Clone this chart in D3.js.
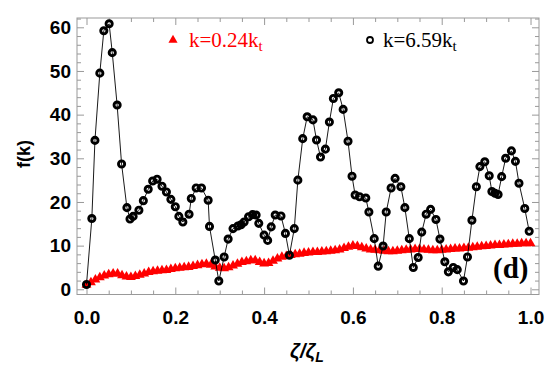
<!DOCTYPE html>
<html><head><meta charset="utf-8">
<script src="https://cdn.jsdelivr.net/npm/d3@7"></script>
<style>body{margin:0;background:#fff}svg{display:block}</style>
</head><body>
<svg id="c" width="553" height="366"></svg>
<script>
// ---- data ----
const blackZeta = [0.000,0.012,0.019,0.030,0.039,0.051,0.058,0.069,0.079,0.091,0.098,0.105,0.118,0.128,0.139,0.149,0.159,0.170,0.180,0.190,0.200,0.208,0.217,0.231,0.236,0.247,0.259,0.274,0.277,0.290,0.298,0.310,0.319,0.330,0.341,0.348,0.355,0.365,0.374,0.382,0.388,0.400,0.408,0.416,0.425,0.438,0.448,0.457,0.468,0.476,0.487,0.497,0.510,0.518,0.527,0.538,0.547,0.556,0.568,0.578,0.589,0.598,0.605,0.615,0.629,0.636,0.648,0.657,0.668,0.675,0.686,0.695,0.708,0.717,0.727,0.736,0.747,0.755,0.765,0.775,0.787,0.796,0.807,0.815,0.826,0.835,0.849,0.858,0.868,0.878,0.886,0.897,0.907,0.913,0.920,0.927,0.935,0.944,0.957,0.966,0.974,0.987,0.997];
const blackF = [1.1,16.2,34.1,49.5,59.2,60.8,54.2,42.2,28.7,18.7,16.1,16.7,18.1,20.3,22.9,24.8,25.2,23.6,22.3,20.6,18.9,16.7,15.4,17.2,20.8,23.2,23.2,20.4,14.4,6.7,1.9,7.4,11.5,13.9,14.5,14.8,15.4,16.6,17.1,17.0,15.1,12.4,11.2,14.3,17.0,16.8,12.8,7.8,13.9,25.0,34.5,39.5,38.8,34.2,30.3,32.1,38.3,43.7,45.0,41.2,33.9,25.9,21.6,21.2,20.9,17.7,11.6,5.3,9.9,17.7,23.2,25.4,23.5,18.7,11.6,5.0,7.3,13.1,17.2,18.3,16.0,11.5,6.3,4.0,5.0,4.5,1.9,7.4,15.8,23.5,28.1,29.2,26.0,22.4,22.0,21.7,25.8,30.0,31.7,29.3,24.3,18.5,13.3];

const redZeta = [0.00,0.01,0.02,0.03,0.04,0.05,0.06,0.07,0.08,0.09,0.10,0.11,0.12,0.13,0.14,0.15,0.16,0.17,0.18,0.19,0.20,0.21,0.22,0.23,0.24,0.25,0.26,0.27,0.28,0.29,0.30,0.31,0.32,0.33,0.34,0.35,0.36,0.37,0.38,0.39,0.40,0.41,0.42,0.43,0.44,0.45,0.46,0.47,0.48,0.49,0.50,0.51,0.52,0.53,0.54,0.55,0.56,0.57,0.58,0.59,0.60,0.61,0.62,0.63,0.64,0.65,0.66,0.67,0.68,0.69,0.70,0.71,0.72,0.73,0.74,0.75,0.76,0.77,0.78,0.79,0.80,0.81,0.82,0.83,0.84,0.85,0.86,0.87,0.88,0.89,0.90,0.91,0.92,0.93,0.94,0.95,0.96,0.97,0.98,0.99,1.00];
const redF = [1.0,1.6,2.2,2.7,3.1,3.4,3.6,3.6,3.2,2.9,2.8,3.0,3.3,3.6,3.9,4.1,4.2,4.3,4.4,4.6,4.8,4.9,5.0,5.1,5.3,5.5,5.7,5.8,5.6,5.2,4.9,4.8,5.0,5.4,5.8,6.2,6.4,6.6,6.6,6.2,5.9,6.0,6.5,7.0,7.4,7.6,7.8,8.0,8.1,8.3,8.4,8.5,8.5,8.6,8.7,8.8,8.9,9.1,9.4,9.7,10.0,9.9,9.6,9.3,9.1,9.0,8.9,8.8,8.7,8.7,8.8,8.9,9.0,9.1,9.2,9.2,9.1,9.0,8.9,8.9,9.0,9.1,9.2,9.3,9.3,9.4,9.5,9.6,9.7,9.8,9.9,10.0,10.1,10.1,10.2,10.3,10.4,10.4,10.5,10.5,10.5];

const xMajor = [0, 0.2, 0.4, 0.6, 0.8, 1.0];
const xMinor = [0.05,0.1,0.15,0.25,0.3,0.35,0.45,0.5,0.55,0.65,0.7,0.75,0.85,0.9,0.95];
const yMajor = [0, 10, 20, 30, 40, 50, 60];
const yMinor = [2,4,6,8,12,14,16,18,22,24,26,28,32,34,36,38,42,44,46,48,52,54,56,58,62];
const legendRed = "k=0.24k", legendBlack = "k=6.59k", legendSub = "t";
const panelLabel = "(d)";

// ---- drawing ----
const svg = d3.select("#c");
const L = 77, R = 539, T = 18, B = 294.5;
const x = d3.scaleLinear().domain([-0.0214, 1.0191]).range([L, R]);
const y = d3.scaleLinear().domain([-1.19, 62.13]).range([B, T]);
const frameColor = "#999";
const sans = "'Liberation Sans', Arial, sans-serif";
const serif = "'Liberation Serif', 'Times New Roman', serif";

function styleAxis(g) {
  g.select(".domain").remove();
  g.selectAll(".tick line").attr("stroke", frameColor).attr("stroke-width", 1);
  g.selectAll("text").attr("fill", "#000").style("font-family", sans).style("font-weight", "bold").style("font-size", "19px");
}
// bottom
svg.append("g").attr("transform", `translate(0,${B})`)
  .call(d3.axisBottom(x).tickValues(xMajor).tickSize(-7).tickPadding(16).tickFormat(d3.format(".1f"))).call(styleAxis);
svg.append("g").attr("transform", `translate(0,${B})`)
  .call(d3.axisBottom(x).tickValues(xMinor).tickSize(-4).tickFormat("")).call(styleAxis);
// top
svg.append("g").attr("transform", `translate(0,${T})`)
  .call(d3.axisTop(x).tickValues(xMajor).tickSize(-7).tickFormat("")).call(styleAxis);
svg.append("g").attr("transform", `translate(0,${T})`)
  .call(d3.axisTop(x).tickValues(xMinor).tickSize(-4).tickFormat("")).call(styleAxis);
// left
svg.append("g").attr("transform", `translate(${L},0)`)
  .call(d3.axisLeft(y).tickValues(yMajor).tickSize(-7).tickPadding(6).tickFormat(d3.format("d"))).call(styleAxis);
svg.append("g").attr("transform", `translate(${L},0)`)
  .call(d3.axisLeft(y).tickValues(yMinor).tickSize(-4).tickFormat("")).call(styleAxis);
// right
svg.append("g").attr("transform", `translate(${R},0)`)
  .call(d3.axisRight(y).tickValues(yMajor).tickSize(-7).tickFormat("")).call(styleAxis);
svg.append("g").attr("transform", `translate(${R},0)`)
  .call(d3.axisRight(y).tickValues(yMinor).tickSize(-4).tickFormat("")).call(styleAxis);

svg.append("rect").attr("x", L).attr("y", T).attr("width", R - L).attr("height", B - T)
  .attr("fill", "none").attr("stroke", frameColor).attr("stroke-width", 1);

// red triangles
const tri = d3.symbol().type(d3.symbolTriangle).size(42);
const redData = redZeta.map((z, i) => [z, redF[i]]);
svg.append("g").selectAll("path").data(redData).join("path")
  .attr("d", tri).attr("transform", d => `translate(${x(d[0])},${y(d[1])})`)
  .attr("fill", "#ff0000");

// black line + rings
const blackData = blackZeta.map((z, i) => [z, blackF[i]]);
svg.append("path").datum(blackData)
  .attr("d", d3.line().x(d => x(d[0])).y(d => y(d[1])))
  .attr("fill", "none").attr("stroke", "#000").attr("stroke-width", 0.9);
svg.append("g").selectAll("circle").data(blackData).join("circle")
  .attr("cx", d => x(d[0])).attr("cy", d => y(d[1])).attr("r", 3.1)
  .attr("fill", "none").attr("stroke", "#000").attr("stroke-width", 2.9);

// legend
svg.append("path").attr("d", d3.symbol().type(d3.symbolTriangle).size(36)).attr("transform", "translate(173,40)").attr("fill", "#ff0000");
const t1 = svg.append("text").attr("x", 189).attr("y", 47).attr("fill", "#ff0000")
  .style("font-family", serif).style("font-size", "21px");
t1.append("tspan").text(legendRed);
t1.append("tspan").attr("dy", 4).style("font-size", "15px").text(legendSub);
svg.append("circle").attr("cx", 370).attr("cy", 40).attr("r", 3).attr("fill", "none")
  .attr("stroke", "#000").attr("stroke-width", 1.8);
const t2 = svg.append("text").attr("x", 383).attr("y", 47).attr("fill", "#000")
  .style("font-family", serif).style("font-size", "21px");
t2.append("tspan").text(legendBlack);
t2.append("tspan").attr("dy", 4).style("font-size", "15px").text(legendSub);

// panel label
svg.append("text").attr("x", 493).attr("y", 278).text(panelLabel)
  .style("font-family", serif).style("font-weight", "bold").style("font-size", "29px");

// axis titles
svg.append("text").attr("transform", "translate(30,154) rotate(-90)").attr("text-anchor", "middle")
  .style("font-family", sans).style("font-weight", "bold").style("font-size", "18px").text("f(k)");
const xt = svg.append("text").attr("x", 307).attr("y", 358).attr("text-anchor", "middle")
  .style("font-family", sans).style("font-style", "italic").style("font-weight", "bold").style("font-size", "20px");
xt.append("tspan").text("ζ/ζ");
xt.append("tspan").attr("dy", 4).style("font-size", "14px").text("L");
</script>
</body></html>
